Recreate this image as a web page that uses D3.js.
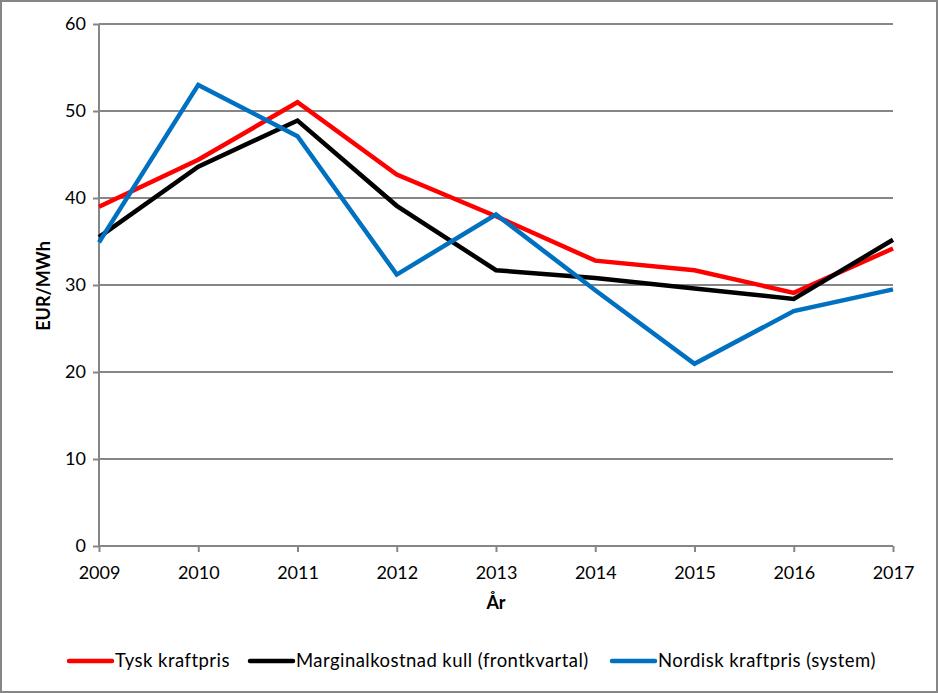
<!DOCTYPE html>
<html><head><meta charset="utf-8">
<script src="https://cdn.jsdelivr.net/npm/d3@7"></script>
<style>
html,body{margin:0;padding:0;background:#fff;}
svg{display:block;font-family:Lato,"Open Sans",sans-serif;}
</style></head>
<body>
<svg id="chart" width="938" height="693"></svg>
<script>
const years = ["2009","2010","2011","2012","2013","2014","2015","2016","2017"];
const tyskKraftpris = [39.0, 44.4, 51.0, 42.7, 37.9, 32.8, 31.7, 29.1, 34.2];
const marginalkostnadKull = [35.5, 43.6, 48.9, 39.1, 31.7, 30.8, 29.6, 28.4, 35.2];
const nordiskKraftpris = [34.9, 53.0, 47.1, 31.2, 38.1, 29.4, 20.95, 27.0, 29.5];
const yTicks = [0, 10, 20, 30, 40, 50, 60];
const seriesNames = ["Tysk kraftpris", "Marginalkostnad kull (frontkvartal)", "Nordisk kraftpris (system)"];
const seriesColors = ["#ff0000", "#000000", "#0070c0"];
const seriesData = [tyskKraftpris, marginalkostnadKull, nordiskKraftpris];

(function(){
const svg = d3.select("#chart");
const W = 938, H = 693;
const pL = 99, pR = 893, pT = 24, pB = 546;
const grid = "#868686";

svg.append("rect").attr("x",1).attr("y",1).attr("width",W-2).attr("height",H-2)
  .attr("fill","#fff").attr("stroke",grid).attr("stroke-width",2);

const x = d3.scalePoint().domain(years).range([pL, pR]);
const y = d3.scaleLinear().domain([0, 60]).range([pB, pT]);

// gridlines
svg.append("g").selectAll("line").data(yTicks.filter(t=>t>0)).join("line")
  .attr("x1", pL).attr("x2", pR).attr("y1", d=>y(d)).attr("y2", d=>y(d))
  .attr("stroke", grid).attr("stroke-width", 2);

// y axis
const yAxis = svg.append("g").attr("transform",`translate(${pL},0)`)
  .call(d3.axisLeft(y).tickValues(yTicks).tickSize(6).tickPadding(7));
yAxis.select(".domain").attr("stroke", grid).attr("stroke-width", 2).attr("d", `M0,${pT}V${pB}`);
yAxis.selectAll(".tick line").attr("stroke", grid).attr("stroke-width", 2);
yAxis.selectAll(".tick text").attr("fill","#000").style("font-size","18px").style("font-family","Lato,sans-serif");

// x axis
const xAxis = svg.append("g").attr("transform",`translate(0,${pB})`)
  .call(d3.axisBottom(x).tickSize(6).tickPadding(14));
xAxis.select(".domain").attr("stroke", grid).attr("stroke-width", 2).attr("d", `M${pL},0H${pR}`);
xAxis.selectAll(".tick line").attr("stroke", grid).attr("stroke-width", 2);
xAxis.selectAll(".tick text").attr("fill","#000").style("font-size","18px").style("font-family","Lato,sans-serif");

// axis titles
svg.append("text").attr("x", (pL+pR)/2).attr("y", 609).attr("text-anchor","middle")
  .style("font-size","18px").style("font-weight","bold").text("År");
svg.append("text").attr("transform","translate(50,286) rotate(-90)").attr("text-anchor","middle")
  .style("font-size","18px").style("font-weight","bold").text("EUR/MWh");

// lines
const line = d3.line().x((d,i)=>x(years[i])).y(d=>y(d));
seriesData.forEach((s,k)=>{
  svg.append("path").datum(s).attr("d", line).attr("fill","none")
    .attr("stroke", seriesColors[k]).attr("stroke-width", 4.5).attr("stroke-linejoin","miter");
});

// legend
const legendX = [69, 250, 612];
const lg = svg.append("g");
seriesNames.forEach((n,k)=>{
  lg.append("line").attr("x1", legendX[k]).attr("x2", legendX[k]+43).attr("y1",661).attr("y2",661)
    .attr("stroke", seriesColors[k]).attr("stroke-width", 4.5).attr("stroke-linecap","round");
  lg.append("text").attr("x", legendX[k]+46).attr("y", 667).style("font-size","18.5px")
    .style("letter-spacing","0.45px").text(n);
});
})();
</script>
</body></html>
